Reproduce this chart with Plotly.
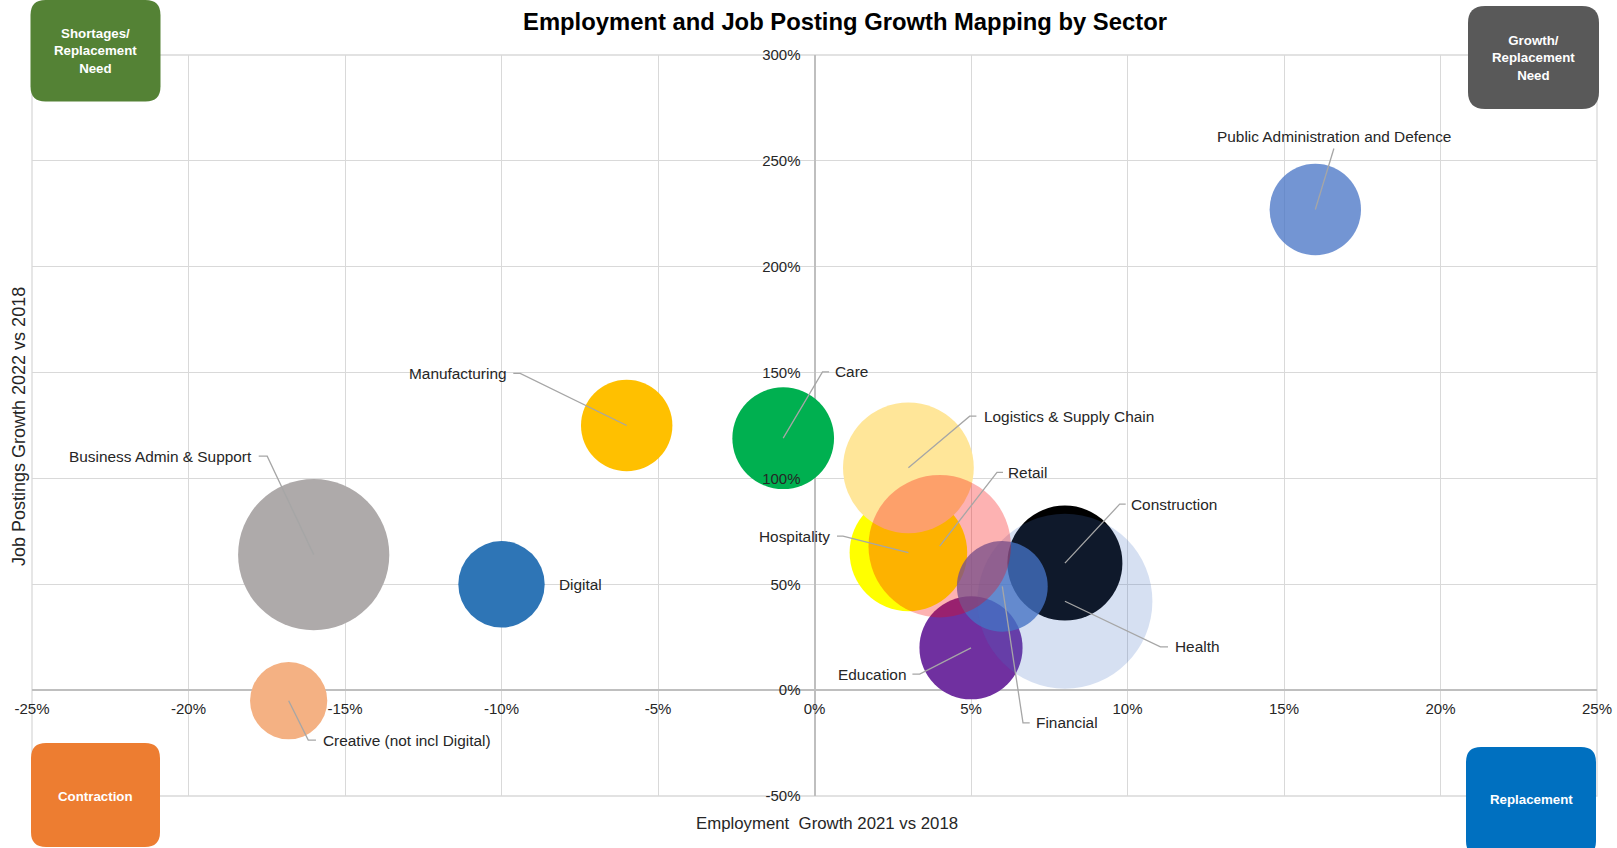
import plotly.graph_objects as go

# ---------------------------------------------------------------- data
sectors = [
    "Business Admin & Support", "Creative (not incl Digital)", "Digital",
    "Manufacturing", "Care", "Public Administration and Defence",
    "Hospitality", "Logistics & Supply Chain", "Construction",
    "Education", "Financial", "Health", "Retail",
]
# Employment growth 2021 vs 2018 (%)
employment_growth = [-16, -16.8, -10, -6, -1, 16, 3, 3, 8, 5, 6, 8, 4]
# Job postings growth 2022 vs 2018 (%)
posting_growth = [64, -5, 50, 125, 119, 227, 65, 105, 60, 20, 49, 42, 68]
# Relative sector size (bubble area)
bubble_size = [23.0, 6.0, 7.5, 8.4, 10.4, 8.4, 13.9, 17.2, 13.3, 10.7, 8.3, 30.8, 20.4]

x_ticks = [-25, -20, -15, -10, -5, 0, 5, 10, 15, 20, 25]
y_ticks = [-50, 0, 50, 100, 150, 200, 250, 300]

quadrant_labels = ["Shortages/<br>Replacement<br>Need", "Growth/<br>Replacement<br>Need",
                   "Contraction", "Replacement"]
title_text = "Employment and Job Posting Growth Mapping by Sector"
x_title = "Employment\u00a0 Growth 2021 vs 2018"
y_title = "Job Postings Growth 2022 vs 2018"

# ---------------------------------------------------------------- style
FONT = "Liberation Sans, Arial, sans-serif"
W, H = 1617, 848
ML, MR, MT, MB = 32, 20, 55, 52
PW, PH = W - ML - MR, H - MT - MB
MAX_BUBBLE_PX = 175
GRID = "#D9D9D9"
AXIS = "#BFBFBF"
LEADER = "#A6A6A6"
TEXT = "#262626"

bubble_colors = {
    "Business Admin & Support": "#AEAAAA",
    "Creative (not incl Digital)": "#F4B183",
    "Digital": "#2E75B6",
    "Manufacturing": "#FFC000",
    "Care": "#00B050",
    "Public Administration and Defence": "rgba(68,114,196,0.75)",
    "Hospitality": "#FFFF00",
    "Logistics & Supply Chain": "#FFE699",
    "Construction": "#000000",
    "Education": "#7030A0",
    "Financial": "rgba(68,114,196,0.78)",
    "Health": "rgba(68,114,196,0.22)",
    "Retail": "rgba(250,0,0,0.30)",
}

# label placement, in pixels relative to the bubble centre (y up):
# leader = elbow point(s); text = (dx, dy, xanchor)
label_layout = {
    "Business Admin & Support": dict(leader=[(-46.5, 98.5), (-55, 98.5)], text=(-60, 98.5, "right")),
    "Creative (not incl Digital)": dict(leader=[(19.6, -39.3), (27.3, -39.3)], text=(32, -39.3, "left")),
    "Digital": dict(leader=None, text=(55.5, 0, "left")),
    "Manufacturing": dict(leader=[(-106.5, 52.1), (-113.4, 52.1)], text=(-118, 52, "right")),
    "Care": dict(leader=[(39.3, 66.4), (45.9, 66.4)], text=(49.6, 66.4, "left")),
    "Public Administration and Defence": dict(leader=[(18.6, 61)], text=(18.8, 72.6, "center")),
    "Hospitality": dict(leader=[(-65.4, 16.4), (-71.4, 16.4)], text=(-76, 16.4, "right")),
    "Logistics & Supply Chain": dict(leader=[(61.3, 51.7), (68, 51.7)], text=(73.3, 51.7, "left")),
    "Construction": dict(leader=[(54.8, 59), (60.8, 59)], text=(64.5, 59, "left")),
    "Education": dict(leader=[(-51.3, -26.3), (-58.6, -26.3)], text=(-62.6, -26.3, "right")),
    "Financial": dict(leader=[(20.7, -136.4), (27.4, -136.4)], text=(32.1, -136.4, "left")),
    "Health": dict(leader=[(95.5, -45.6), (103.1, -45.6)], text=(107.8, -45.6, "left")),
    "Retail": dict(leader=[(57.3, 73.8), (63.3, 73.8)], text=(66.3, 73.8, "left")),
}

sizeref = 2.0 * max(bubble_size) / MAX_BUBBLE_PX ** 2

fig = go.Figure()

# bubbles, one trace per sector so the stacking order is explicit
for name, ex, py, sz in zip(sectors, employment_growth, posting_growth, bubble_size):
    fig.add_trace(go.Scatter(
        x=[ex], y=[py], mode="markers", name=name,
        marker=dict(size=[sz], sizemode="area", sizeref=sizeref, opacity=1,
                    color=bubble_colors[name], line=dict(width=0)),
        hovertemplate=name + "<br>Employment: %{x}%<br>Postings: %{y}%<extra></extra>",
        showlegend=False,
    ))

shapes = []
annotations = []

# leader lines and data labels anchored at each bubble centre
for name, ex, py in zip(sectors, employment_growth, posting_growth):
    cfg = label_layout[name]
    if cfg["leader"]:
        path = "M0,0 " + " ".join(f"L{dx},{dy}" for dx, dy in cfg["leader"])
        shapes.append(dict(
            type="path", xref="x", yref="y", xsizemode="pixel", ysizemode="pixel",
            xanchor=ex, yanchor=py, path=path,
            line=dict(color=LEADER, width=1.3), layer="above",
        ))
    dx, dy, anchor = cfg["text"]
    annotations.append(dict(
        x=ex, y=py, xref="x", yref="y", text=name, showarrow=False,
        xshift=dx, yshift=dy, xanchor=anchor, yanchor="middle",
        font=dict(family=FONT, size=15.4, color=TEXT),
    ))


def px_to_paper(x, y):
    return (x - ML) / PW, (H - MB - y) / PH


def rounded_box(x0, y0, x1, y1, r):
    """Rounded rectangle path in paper coordinates from pixel corners."""
    a0, b1 = px_to_paper(x0, y0)
    a1, b0 = px_to_paper(x1, y1)
    rx, ry = r / PW, r / PH
    return (f"M{a0 + rx},{b1} L{a1 - rx},{b1} Q{a1},{b1} {a1},{b1 - ry} "
            f"L{a1},{b0 + ry} Q{a1},{b0} {a1 - rx},{b0} L{a0 + rx},{b0} "
            f"Q{a0},{b0} {a0},{b0 + ry} L{a0},{b1 - ry} Q{a0},{b1} {a0 + rx},{b1} Z")


# quadrant badges
badges = [
    ((30.5, 0, 160.5, 101.5, 15), "#548235", (95.5, 50.5)),
    ((1468, 6, 1599, 109, 17), "#595959", (1533.5, 58)),
    ((31, 743, 160, 847, 15), "#ED7D31", (95.5, 796)),
    ((1466, 747, 1596, 856, 15), "#0070C0", (1531, 799.5)),
]
for (box, color, centre), text in zip(badges, quadrant_labels):
    shapes.append(dict(type="path", xref="paper", yref="paper",
                       path=rounded_box(*box), fillcolor=color,
                       line=dict(width=0), layer="above"))
    cx, cy = px_to_paper(*centre)
    annotations.append(dict(x=cx, y=cy, xref="paper", yref="paper", text=text,
                            showarrow=False, xanchor="center", yanchor="middle",
                            font=dict(family=FONT, size=13.3, color="white", weight="bold")))

# plot-area border drawn as gridline
shapes.append(dict(type="rect", xref="paper", yref="paper", x0=0, x1=1, y0=0, y1=1,
                   line=dict(color=GRID, width=1.3), layer="below"))

# axis titles
ax_x, ax_y = px_to_paper(826.6, 823)
annotations.append(dict(x=ax_x, y=ax_y, xref="paper", yref="paper", text=x_title,
                        showarrow=False, xanchor="center", yanchor="middle",
                        font=dict(family=FONT, size=16.8, color=TEXT)))
ay_x, ay_y = px_to_paper(19.6, 426.4)
annotations.append(dict(x=ay_x, y=ay_y, xref="paper", yref="paper", text=y_title,
                        showarrow=False, xanchor="center", yanchor="middle", textangle=-90,
                        font=dict(family=FONT, size=18, color=TEXT)))

y_lo, y_hi = min(y_ticks), max(y_ticks)
x_lo, x_hi = min(x_ticks), max(x_ticks)

fig.update_layout(
    width=W, height=H,
    margin=dict(l=ML, r=MR, t=MT, b=MB, pad=0, autoexpand=False),
    paper_bgcolor="white", plot_bgcolor="white",
    title=dict(text=title_text, x=845 / W, xref="container", xanchor="center",
               y=1 - 22 / H, yref="container", yanchor="middle",
               font=dict(family=FONT, size=23.8, color="black", weight="bold")),
    xaxis=dict(
        range=[x_lo, x_hi], tickvals=x_ticks, ticktext=[f"{v}%" for v in x_ticks],
        showgrid=True, gridcolor=GRID, gridwidth=1.3,
        zeroline=True, zerolinecolor=AXIS, zerolinewidth=1.6,
        showline=False, ticks="", anchor="free", automargin=False,
        position=(0 - y_lo) / (y_hi - y_lo),
        ticklabelstandoff=8,
        tickfont=dict(family=FONT, size=15, color=TEXT),
        fixedrange=True,
    ),
    yaxis=dict(
        range=[y_lo, y_hi], tickvals=y_ticks, ticktext=[f"{v}%" for v in y_ticks],
        showgrid=True, gridcolor=GRID, gridwidth=1.3,
        zeroline=True, zerolinecolor=AXIS, zerolinewidth=1.6,
        showline=False, ticks="", anchor="free", automargin=False,
        position=(0 - x_lo) / (x_hi - x_lo),
        ticklabelstandoff=14,
        tickfont=dict(family=FONT, size=15, color=TEXT),
        fixedrange=True,
    ),
    shapes=shapes,
    annotations=annotations,
    showlegend=False,
)

fig.write_html("out.html")
